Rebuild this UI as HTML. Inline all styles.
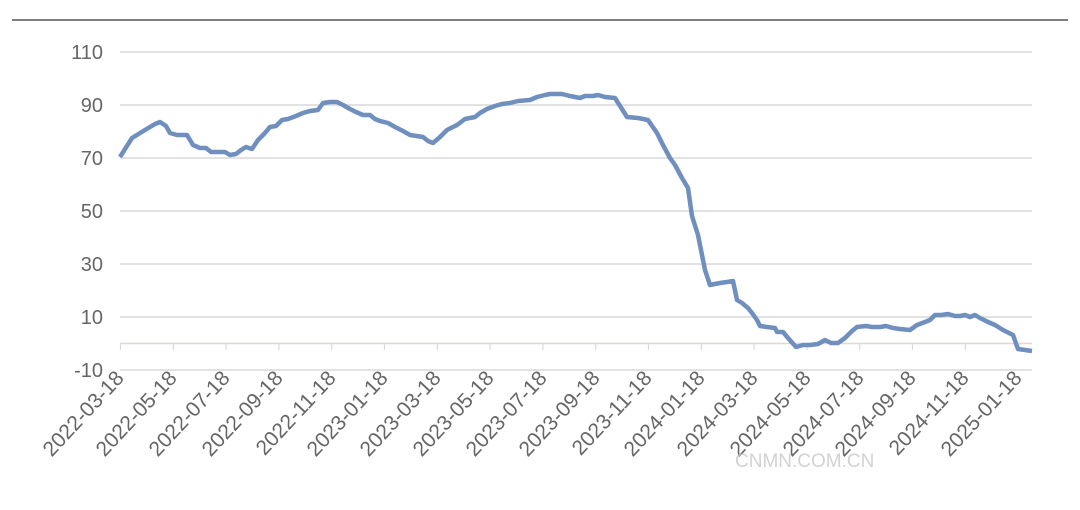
<!DOCTYPE html>
<html><head><meta charset="utf-8"><style>body{margin:0;background:#fff}svg{display:block}</style></head>
<body>
<svg width="1080" height="510" xmlns="http://www.w3.org/2000/svg" font-family="Liberation Sans, sans-serif">
<line x1="12" y1="20" x2="1068" y2="20" stroke="#333" stroke-width="1.2"/>
<g stroke="#d9d9d9" stroke-width="1.5">
<line x1="120" y1="52" x2="1032" y2="52"/><line x1="120" y1="105" x2="1032" y2="105"/>
<line x1="120" y1="158" x2="1032" y2="158"/><line x1="120" y1="211" x2="1032" y2="211"/>
<line x1="120" y1="264" x2="1032" y2="264"/><line x1="120" y1="317" x2="1032" y2="317"/>
<line x1="120" y1="370" x2="1032" y2="370"/>
</g>
<line x1="120" y1="343.5" x2="1032" y2="343.5" stroke="#e6d6d2" stroke-width="1.5"/>
<g stroke="#d9d9d9" stroke-width="1.2">
<line x1="120.5" y1="343" x2="120.5" y2="350"/><line x1="173.3" y1="343" x2="173.3" y2="350"/><line x1="226.1" y1="343" x2="226.1" y2="350"/><line x1="278.9" y1="343" x2="278.9" y2="350"/><line x1="331.7" y1="343" x2="331.7" y2="350"/><line x1="384.5" y1="343" x2="384.5" y2="350"/><line x1="437.3" y1="343" x2="437.3" y2="350"/><line x1="490.1" y1="343" x2="490.1" y2="350"/><line x1="542.9" y1="343" x2="542.9" y2="350"/><line x1="595.7" y1="343" x2="595.7" y2="350"/><line x1="648.5" y1="343" x2="648.5" y2="350"/><line x1="701.3" y1="343" x2="701.3" y2="350"/><line x1="754.1" y1="343" x2="754.1" y2="350"/><line x1="806.9" y1="343" x2="806.9" y2="350"/><line x1="859.7" y1="343" x2="859.7" y2="350"/><line x1="912.5" y1="343" x2="912.5" y2="350"/><line x1="965.3" y1="343" x2="965.3" y2="350"/><line x1="1018.1" y1="343" x2="1018.1" y2="350"/>
</g>
<g fill="#666" font-size="20" text-anchor="end">
<text x="103" y="59">110</text><text x="103" y="112">90</text><text x="103" y="165">70</text><text x="103" y="218">50</text><text x="103" y="271">30</text><text x="103" y="324">10</text><text x="103" y="377">-10</text>
</g>
<g fill="#666" font-size="21" text-anchor="end">
<text transform="translate(125,379) rotate(-47)">2022-03-18</text>
<text transform="translate(178,379) rotate(-47)">2022-05-18</text>
<text transform="translate(231,379) rotate(-47)">2022-07-18</text>
<text transform="translate(284,379) rotate(-47)">2022-09-18</text>
<text transform="translate(337,379) rotate(-47)">2022-11-18</text>
<text transform="translate(389,379) rotate(-47)">2023-01-18</text>
<text transform="translate(442,379) rotate(-47)">2023-03-18</text>
<text transform="translate(495,379) rotate(-47)">2023-05-18</text>
<text transform="translate(548,379) rotate(-47)">2023-07-18</text>
<text transform="translate(601,379) rotate(-47)">2023-09-18</text>
<text transform="translate(653,379) rotate(-47)">2023-11-18</text>
<text transform="translate(706,379) rotate(-47)">2024-01-18</text>
<text transform="translate(759,379) rotate(-47)">2024-03-18</text>
<text transform="translate(812,379) rotate(-47)">2024-05-18</text>
<text transform="translate(865,379) rotate(-47)">2024-07-18</text>
<text transform="translate(917,379) rotate(-47)">2024-09-18</text>
<text transform="translate(970,379) rotate(-47)">2024-11-18</text>
<text transform="translate(1023,379) rotate(-47)">2025-01-18</text>
</g>
<polyline fill="none" stroke="#6f8fbf" stroke-width="4.5" stroke-linejoin="round" points="120,157 132,138 145,130 155,124 160,122 166,126 170,133 177,135 187,135 193,145 200,148 206,148 211,152 218,152 225,152 230,155 236,154 241,150 246,147 252,149 258,140 264,134 270,127 276,126 282,120 288,119 296,116 303,113 310,111 318,110 323,103 330,102 337,102 343,105 350,109 356,112 363,115 370,115 375,119 380,121 388,123 395,127 403,131 410,135 423,137 428,141 433,143 440,137 447,130 457,125 465,119 475,117 480,113 487,109 495,106 502,104 510,103 518,101 530,100 537,97 545,95 550,94 562,94 570,96 580,98 585,96 593,96 598,95 605,97 615,98 627,117 638,118 648,120 657,133 663,145 670,158 675,165 682,178 688,188 692,216 698,235 705,270 710,285 720,283 727,282 733,281 737,300 742,303 748,308 752,313 757,320 760,326 767,327 775,328 777,332 783,332 788,338 796,347 803,345 810,345 818,344 825,340 831,343 838,343 845,338 852,331 857,327 866,326 872,327 880,327 886,326 893,328 900,329 910,330 917,325 925,322 930,320 935,315 941,315 948,314 955,316 960,316 965,315 970,317 975,315 980,318 988,322 995,325 1003,330 1013,335 1018,349 1025,350 1032,351"/>
<text x="735" y="467" font-size="19" fill="#c8c8c8" opacity="0.8">CNMN.COM.CN</text>
</svg>
</body></html>
